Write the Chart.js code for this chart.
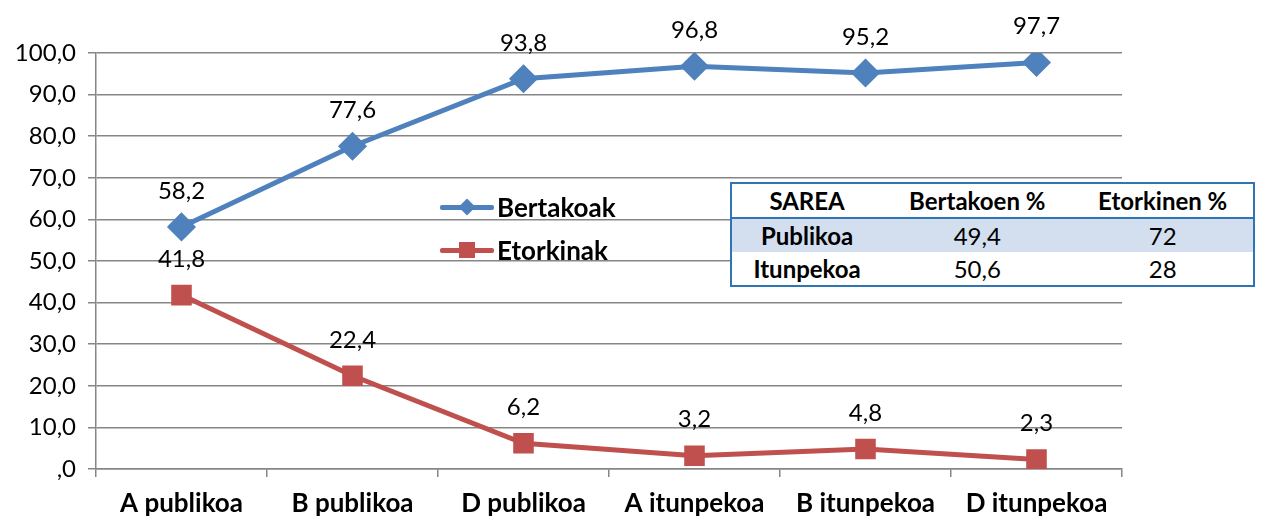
<!DOCTYPE html>
<html>
<head>
<meta charset="utf-8">
<script src="https://cdn.jsdelivr.net/npm/chart.js@4.4.1/dist/chart.umd.min.js"></script>
<style>
    html, body { margin: 0; padding: 0; background: #fff; }
    #wrap { position: relative; width: 1264px; height: 520px; font-family: Lato, 'Noto Sans', sans-serif; }
    #chart { position: absolute; left: 0; top: 0; }
    .legend { position: absolute; left: 440px; font-weight: bold; font-size: 26px; color: #000; display: flex; align-items: center; }
    .legend .sample { position: relative; width: 54px; height: 20px; margin-right: 3px; }
    .legend .sample .ln { position: absolute; left: 0; right: 0; top: 8px; height: 5px; border-radius: 2px; }
    .legend .sample .mk { position: absolute; left: 19px; top: 2px; width: 16px; height: 16px; }
    #tbl { position: absolute; left: 730px; top: 182px; width: 525px; border: 2px solid #2E75B6; border-collapse: collapse; background: #fff; font-size: 24px; }
    #tbl th, #tbl td { text-align: center; padding: 0; height: 33px; color: #000; }
    #tbl th { font-weight: bold; border-bottom: 2px solid #2E75B6; height: 33px; }
    #tbl td:first-child { font-weight: bold; }
    #tbl tr.shade td { background: #D3DFEE; }
</style>
</head>
<body>
<div id="wrap">
    <canvas id="chart" width="1264" height="520"></canvas>
    <div class="legend" style="top:191px;"><div class="sample"><div class="ln" style="background:#4F81BD"></div><div class="mk" style="background:#4F81BD;transform:rotate(45deg) scale(0.75);"></div></div>Bertakoak</div>
    <div class="legend" style="top:234px;"><div class="sample"><div class="ln" style="background:#C0504D"></div><div class="mk" style="background:#C0504D;"></div></div>Etorkinak</div>
    <table id="tbl"></table>
</div>
<script>
const categories = ['A publikoa', 'B publikoa', 'D publikoa', 'A itunpekoa', 'B itunpekoa', 'D itunpekoa'];
const bertakoak = [58.2, 77.6, 93.8, 96.8, 95.2, 97.7];
const etorkinak = [41.8, 22.4, 6.2, 3.2, 4.8, 2.3];

const tableHeader = ['SAREA', 'Bertakoen %', 'Etorkinen %'];
const tableRows = [
    ['Publikoa', '49,4', '72'],
    ['Itunpekoa', '50,6', '28']
];

const fmt = v => v === 0 ? ',0' : v.toFixed(1).replace('.', ',');

// build the summary table
const tbl = document.getElementById('tbl');
let html = '<tr>' + tableHeader.map(h => `<th>${h}</th>`).join('') + '</tr>';
tableRows.forEach((r, i) => {
    html += `<tr class="${i === 0 ? 'shade' : ''}">` + r.map(c => `<td>${c}</td>`).join('') + '</tr>';
});
tbl.innerHTML = html;

// value labels above each point
const valueLabels = {
    id: 'valueLabels',
    afterDatasetsDraw(chart) {
        const ctx = chart.ctx;
        ctx.save();
        ctx.font = '24px Lato, "Noto Sans", sans-serif';
        ctx.fillStyle = '#000';
        ctx.textAlign = 'center';
        ctx.textBaseline = 'middle';
        chart.data.datasets.forEach((ds, i) => {
            chart.getDatasetMeta(i).data.forEach((pt, j) => {
                ctx.fillText(fmt(ds.data[j]), pt.x, pt.y - 36);
            });
        });
        ctx.restore();
    }
};

const gridColor = '#868686';

new Chart(document.getElementById('chart').getContext('2d'), {
    type: 'line',
    data: {
        labels: categories,
        datasets: [
            { label: 'Bertakoak', data: bertakoak, borderColor: '#4F81BD', backgroundColor: '#4F81BD', borderWidth: 5, pointStyle: 'rectRot', pointRadius: 11, pointHoverRadius: 11, tension: 0 },
            { label: 'Etorkinak', data: etorkinak, borderColor: '#C0504D', backgroundColor: '#C0504D', borderWidth: 5, pointStyle: 'rect', pointRadius: 11, pointHoverRadius: 11, tension: 0 }
        ]
    },
    options: {
        responsive: false,
        animation: false,
        layout: { padding: { top: 53, right: 142, left: 0, bottom: 0 } },
        plugins: { legend: { display: false }, tooltip: { enabled: false } },
        scales: {
            x: {
                offset: true,
                grid: { offset: true, drawOnChartArea: false, drawTicks: true, tickLength: 8, color: gridColor, lineWidth: 1.5 },
                border: { color: gridColor, width: 1.5 },
                ticks: { color: '#000', padding: 11, font: { family: 'Lato', size: 26, weight: 'bold' } },
                afterFit: s => { s.height = 51; }
            },
            y: {
                min: 0,
                max: 100,
                grid: { color: gridColor, lineWidth: 1.5, tickLength: 8 },
                border: { color: gridColor, width: 1.5 },
                ticks: { stepSize: 10, color: '#000', padding: 12, font: { family: 'Lato', size: 24 }, callback: v => fmt(v) },
                afterFit: s => { s.width = 96; }
            }
        }
    },
    plugins: [valueLabels]
});
</script>
</body>
</html>
